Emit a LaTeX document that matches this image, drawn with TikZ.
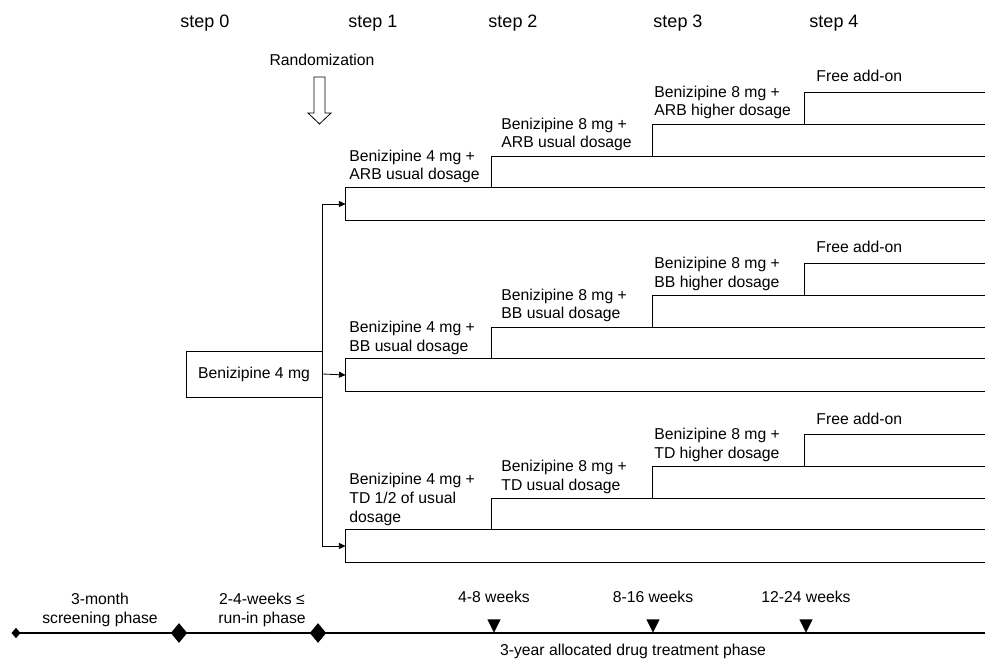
\documentclass[tikz,border=0pt]{standalone}
\usepackage{fontspec}
\setmainfont{Liberation Sans}
\usepackage{tikz}
\usetikzlibrary{arrows.meta, shapes.geometric}

\begin{document}
\begin{tikzpicture}[
        x = 0.75pt, y = -0.75pt, % one unit = one pixel, y pointing down
        > = {Triangle[length = 5pt, width = 4.5pt]}, % arrow head style
        line width = 0.6pt,
        font = \fontsize{11.8}{14}\selectfont
    ]

    \tikzstyle{steptitle}=[font = \fontsize{13.5}{15}\selectfont]
    \tikzstyle{dose}=[anchor = south west, inner sep = 0pt, align = left]
    \tikzstyle{stepbox}=[minimum width = 479.25pt, minimum height = 24pt, inner sep = 0pt]
    \tikzstyle{phase}=[align = center, inner sep = 0pt]
    \tikzstyle{milestone}=[diamond, fill = black, inner sep = 0pt,
        minimum width = 12.5pt, minimum height = 15pt]
    \tikzstyle{weekmark}=[isosceles triangle, isosceles triangle stretches,
        shape border rotate = 270, fill = black, inner sep = 0pt,
        minimum width = 10pt, minimum height = 10pt]

    \useasboundingbox (0,0) rectangle (985,659);

    % step headings
    \node[steptitle] (s0) at (205,23) {step 0};
    \node[steptitle] (s1) at (373,23) {step 1};
    \node[steptitle] (s2) at (513,23) {step 2};
    \node[steptitle] (s3) at (678,23) {step 3};
    \node[steptitle] (s4) at (834,23) {step 4};

    \node (rand) at (322,60) {Randomization};
    \draw[fill = white] (314,77) -- (325,77) -- (325,113) -- (331,113)
        -- (319.5,124) -- (308,113) -- (314,113) -- cycle;

    \node[draw, minimum width = 102pt, minimum height = 34.5pt] (start) at (254,374) {Benizipine 4 mg};

    % the three arms, one staircase each
    \foreach \n/\B in {arb/188, bb/359, td/530} {
        \node[stepbox] (\n) at (665.5,\B+16) {};
        \draw (\n.north east) -- (\n.north west) -- (\n.south west) -- (\n.south east);
        \draw (491,\B) |- (985,\B-32);
        \draw (652,\B-32) |- (985,\B-64);
        \draw (804,\B-64) |- (985,\B-96);
        \node[dose] (free\n) at (816,\B-100) {Free add-on\strut};
    }

    \node[dose] (arb1) at (349,186) {Benizipine 4 mg +\\ARB usual dosage\strut};
    \node[dose] (arb2) at (501,154) {Benizipine 8 mg +\\ARB usual dosage\strut};
    \node[dose] (arb3) at (654,122) {Benizipine 8 mg +\\ARB higher dosage\strut};

    \node[dose] (bb1) at (349,357) {Benizipine 4 mg +\\BB usual dosage\strut};
    \node[dose] (bb2) at (501,325) {Benizipine 8 mg +\\BB usual dosage\strut};
    \node[dose] (bb3) at (654,293) {Benizipine 8 mg +\\BB higher dosage\strut};

    \node[dose] (td1) at (349,528) {Benizipine 4 mg +\\TD 1/2 of usual\\dosage\strut};
    \node[dose] (td2) at (501,496) {Benizipine 8 mg +\\TD usual dosage\strut};
    \node[dose] (td3) at (654,464) {Benizipine 8 mg +\\TD higher dosage\strut};

    % randomization branches
    \draw[line width = 1.1pt] (arb.west -| start.east) -- (td.west -| start.east);
    \draw[->] (arb.west -| start.east) -- (arb.west);
    \draw[->] (start.east) -- (bb.west);
    \draw[->] (td.west -| start.east) -- (td.west);

    % time line
    \coordinate (tstart) at (16,633);
    \coordinate (tend) at (985,633);
    \draw[line width = 2.2pt] (tstart) -- (tend);
    \node[milestone, minimum width = 7pt, minimum height = 8pt] (m0) at (tstart) {};
    \node[milestone] (m1) at (179,633) {};
    \node[milestone] (m2) at (318,633) {};

    \node[phase] (screen) at (100,610) {3-month\\screening phase};
    \node[phase] (runin) at (262,610) {2-4-weeks ≤\\run-in phase};

    \foreach \x/\t/\n in {494/4-8 weeks/w1, 653/8-16 weeks/w2, 806/12-24 weeks/w3} {
        \node[weekmark] (\n) at (\x,623.5) {};
        \node (\n txt) at (\x,597) {\t};
    }

    \node (alloc) at (633,651) {3-year allocated drug treatment phase};

\end{tikzpicture}
\end{document}
